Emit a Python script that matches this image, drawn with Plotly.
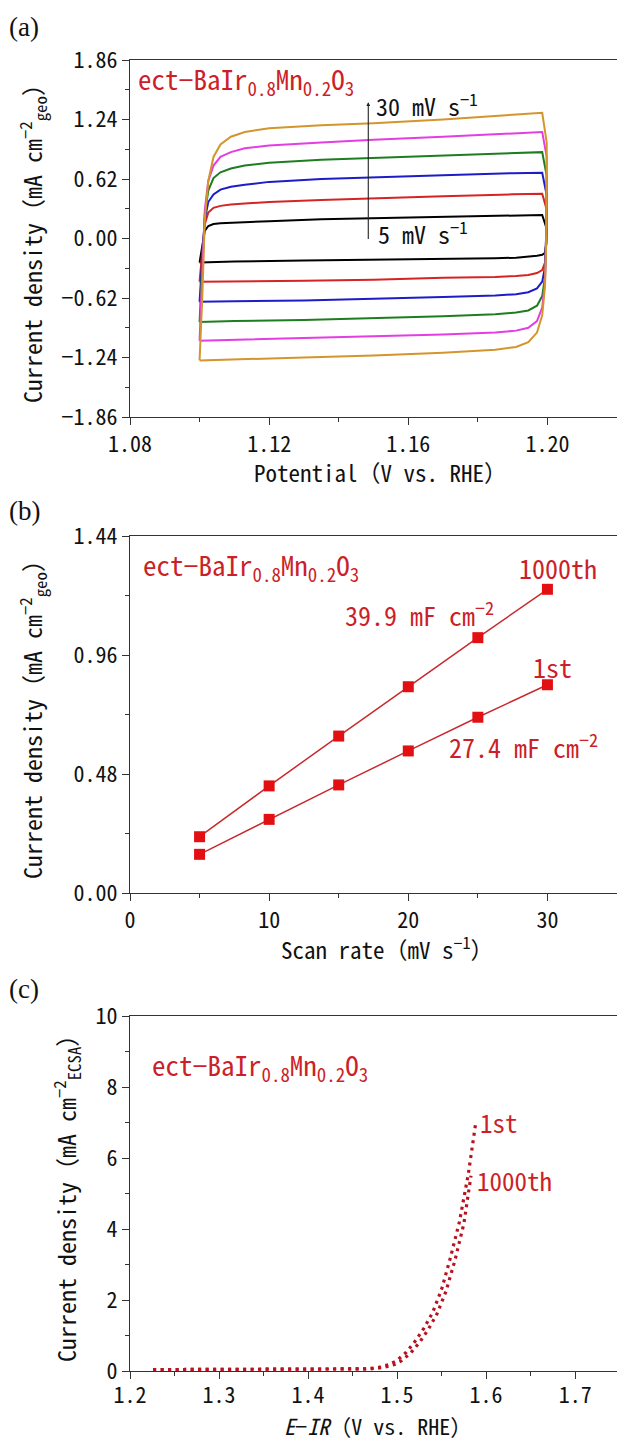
import plotly.graph_objects as go

W, H = 617, 1441
FONT = "Noto Sans Mono CJK JP, Noto Sans CJK JP, sans-serif"
RED_TXT = "#cc1f28"

# ---------------- (a) cyclic voltammograms at different scan rates ----------------
scan_rates = [5, 10, 15, 20, 25, 30]
cv_colors = ["#000000", "#d42424", "#1c1cc8", "#1e7d1e", "#e23ee2", "#d4952c"]

# potential grid of the anodic (forward) and cathodic (reverse) branches, V vs. RHE
E_forward = [1.1000, 1.1008, 1.1015, 1.1025, 1.1040, 1.1060, 1.1090, 1.1130,
             1.1200, 1.1350, 1.1500, 1.1700, 1.1900, 1.1985]
E_reverse = [1.1998, 1.1997, 1.1993, 1.1985, 1.1970, 1.1945, 1.1910, 1.1850,
             1.1700, 1.1500, 1.1300, 1.1100, 1.1010, 1.1000]

# current density, mA cm^-2 (geo)
j5_fwd = [-0.25, -0.05, 0.08, 0.13, 0.15, 0.16, 0.165, 0.17, 0.18, 0.20, 0.21, 0.225, 0.24, 0.245]
j5_rev = [0.10, -0.05, -0.15, -0.17, -0.18, -0.19, -0.20, -0.205, -0.21, -0.22, -0.23, -0.24, -0.25, -0.25]
j10_fwd = [-0.45, -0.10, 0.15, 0.27, 0.32, 0.34, 0.355, 0.365, 0.38, 0.40, 0.42, 0.44, 0.46, 0.467]
j10_rev = [0.30, 0.00, -0.25, -0.33, -0.36, -0.38, -0.39, -0.40, -0.41, -0.43, -0.44, -0.445, -0.45, -0.45]
j15_fwd = [-0.66, -0.20, 0.20, 0.38, 0.46, 0.51, 0.54, 0.56, 0.59, 0.62, 0.64, 0.66, 0.68, 0.685]
j15_rev = [0.45, 0.10, -0.30, -0.45, -0.52, -0.56, -0.58, -0.595, -0.61, -0.63, -0.645, -0.655, -0.66, -0.66]
j20_fwd = [-0.87, -0.30, 0.25, 0.50, 0.63, 0.69, 0.73, 0.76, 0.79, 0.82, 0.84, 0.86, 0.89, 0.90]
j20_rev = [0.65, 0.10, -0.40, -0.60, -0.70, -0.75, -0.77, -0.79, -0.81, -0.83, -0.85, -0.86, -0.87, -0.87]
j25_fwd = [-1.065, -0.40, 0.30, 0.60, 0.76, 0.85, 0.90, 0.94, 0.97, 1.00, 1.03, 1.06, 1.09, 1.11]
j25_rev = [0.85, 0.10, -0.45, -0.72, -0.86, -0.93, -0.96, -0.98, -1.00, -1.02, -1.04, -1.055, -1.065, -1.065]
j30_fwd = [-1.27, -0.60, 0.20, 0.60, 0.85, 0.98, 1.06, 1.11, 1.15, 1.18, 1.20, 1.24, 1.29, 1.31]
j30_rev = [1.00, 0.00, -0.50, -0.80, -0.98, -1.08, -1.13, -1.16, -1.19, -1.22, -1.24, -1.26, -1.27, -1.27]

cv_fwd = [j5_fwd, j10_fwd, j15_fwd, j20_fwd, j25_fwd, j30_fwd]
cv_rev = [j5_rev, j10_rev, j15_rev, j20_rev, j25_rev, j30_rev]

a_yticks = [-1.86, -1.24, -0.62, 0.00, 0.62, 1.24, 1.86]

# ---------------- (b) double-layer charging current vs scan rate ----------------
rate_mV = [5, 10, 15, 20, 25, 30]
j_1000th = [0.227, 0.432, 0.633, 0.832, 1.030, 1.225]
j_1st = [0.156, 0.297, 0.436, 0.573, 0.709, 0.840]
b_yticks = [0.00, 0.48, 0.96, 1.44]

# ---------------- (c) ECSA-normalised LSV ----------------
E_lsv_1st = [1.226, 1.30, 1.40, 1.445, 1.465, 1.479, 1.492, 1.500, 1.510, 1.520,
             1.530, 1.540, 1.550, 1.560, 1.570, 1.580, 1.584, 1.588]
j_lsv_1st = [0.04, 0.04, 0.04, 0.04, 0.06, 0.10, 0.19, 0.30, 0.52, 0.83,
             1.20, 1.65, 2.30, 3.20, 4.20, 5.55, 6.23, 6.93]
E_lsv_1000th = [1.226, 1.30, 1.40, 1.450, 1.470, 1.485, 1.497, 1.505, 1.515, 1.525,
                1.535, 1.545, 1.555, 1.565, 1.575, 1.583]
j_lsv_1000th = [0.04, 0.04, 0.04, 0.04, 0.06, 0.10, 0.18, 0.29, 0.50, 0.80,
                1.17, 1.62, 2.25, 3.12, 4.15, 5.50]

fig = go.Figure()

for rate, col, jf, jr in zip(scan_rates, cv_colors, cv_fwd, cv_rev):
    fig.add_trace(go.Scatter(x=E_forward + E_reverse, y=jf + jr, mode="lines",
                             line=dict(color=col, width=2), name=f"{rate} mV/s",
                             xaxis="x", yaxis="y"))

for jv in (j_1000th, j_1st):
    fig.add_trace(go.Scatter(x=rate_mV, y=jv, mode="lines+markers",
                             line=dict(color="#c82a2e", width=1.5),
                             marker=dict(symbol="square", size=11, color="#e31013"),
                             xaxis="x2", yaxis="y2"))

for ev, jv in ((E_lsv_1000th, j_lsv_1000th), (E_lsv_1st, j_lsv_1st)):
    fig.add_trace(go.Scatter(x=ev, y=jv, mode="lines",
                             line=dict(color="#b8121e", width=3.2, dash="3px,4.5px"),
                             xaxis="x3", yaxis="y3"))


def px_y(y):
    return 1 - y / H


XDOM = [130 / W, 1.0]
axis_common = dict(showline=True, linecolor="#333333", linewidth=1.3, ticks="outside",
                   ticklen=7, tickwidth=1.3, tickcolor="#333333", showgrid=False,
                   zeroline=False, automargin=False,
                   tickfont=dict(family=FONT, size=22, color="#111111"))
minor_common = dict(ticks="outside", ticklen=4, tickwidth=1.2, tickcolor="#333333", showgrid=False)

fig.update_layout(
    template="none",
    width=W, height=H, margin=dict(l=0, r=0, t=0, b=0, pad=0, autoexpand=False),
    paper_bgcolor="white", plot_bgcolor="white", showlegend=False,
    font=dict(family=FONT, color="#111111"),
    # (a)
    xaxis=dict(domain=XDOM, anchor="y", range=[1.08, 1.22], mirror=True,
               tickmode="linear", tick0=1.08, dtick=0.04, tickformat=".2f",
               minor=dict(dtick=0.02, tick0=1.08, **minor_common), **axis_common),
    yaxis=dict(domain=[px_y(417), px_y(60)], anchor="x", range=[-1.86, 1.86],
               tickmode="array", tickvals=a_yticks,
               ticktext=[f"{v:.2f}".replace("-", "\u2212") for v in a_yticks],
               minor=dict(tickmode="linear", tick0=-1.86, dtick=0.31, **minor_common),
               **axis_common),
    # (b)
    xaxis2=dict(domain=XDOM, anchor="y2", range=[0, 35], mirror=True,
                tickmode="linear", tick0=0, dtick=10,
                minor=dict(dtick=5, tick0=0, **minor_common), **axis_common),
    yaxis2=dict(domain=[px_y(893), px_y(536)], anchor="x2", range=[0, 1.44],
                tickmode="array", tickvals=b_yticks, ticktext=[f"{v:.2f}" for v in b_yticks],
                minor=dict(tickmode="linear", tick0=0, dtick=0.24, **minor_common),
                **axis_common),
    # (c)
    xaxis3=dict(domain=XDOM, anchor="y3", range=[1.2, 1.747], mirror=True,
                tickmode="linear", tick0=1.2, dtick=0.1, tickformat=".1f",
                ticklabelstandoff=-3,
                minor=dict(dtick=0.05, tick0=1.2, **minor_common), **axis_common),
    yaxis3=dict(domain=[px_y(1371), px_y(1016)], anchor="x3", range=[0, 10],
                tickmode="linear", tick0=0, dtick=2,
                minor=dict(dtick=1, tick0=0, **minor_common), **axis_common),
)

formula = "ect\u2212BaIr<sub>0.8</sub>Mn<sub>0.2</sub>O<sub>3</sub>"
ann = []


def text(x, y, s, size=23, color="#111111", xanchor="center", angle=0, family=FONT):
    ann.append(dict(x=x / W, y=px_y(y), xref="paper", yref="paper", text=s, showarrow=False,
                    xanchor=xanchor, yanchor="middle", textangle=angle,
                    font=dict(family=family, size=size, color=color)))


# panel letters
for lbl, yy in (("(a)", 27), ("(b)", 511), ("(c)", 989)):
    text(7, yy, lbl, size=27, xanchor="left", family="Liberation Serif")

# (a)
text(136, 80, formula, size=27, color=RED_TXT, xanchor="left")
text(374, 105, "30 mV s<sup>\u22121</sup>", size=24, xanchor="left")
text(376, 233, "5 mV s<sup>\u22121</sup>", size=24, xanchor="left")
text(380, 472, "Potential\uff08V vs. RHE\uff09", size=23)
text(32, 238, "Current density\uff08mA cm<sup>\u22122</sup><sub>geo</sub>\uff09", size=24, angle=-90)
ann.append(dict(x=1.1485, y=1.42, ax=1.1485, ay=-0.02, xref="x", yref="y", axref="x", ayref="y",
                showarrow=True, arrowhead=2, arrowsize=0.7, arrowwidth=1.1, arrowcolor="#222222",
                text=""))

# (b)
text(141, 566, formula, size=27, color=RED_TXT, xanchor="left")
text(558, 568, "1000th", size=26, color=RED_TXT)
text(343, 613, "39.9 mF cm<sup>\u22122</sup>", size=26, color=RED_TXT, xanchor="left")
text(552, 667, "1st", size=26, color=RED_TXT)
text(447, 746, "27.4 mF cm<sup>\u22122</sup>", size=26, color=RED_TXT, xanchor="left")
text(387, 948, "Scan rate\uff08mV s<sup>\u22121</sup>\uff09", size=23)
text(32, 714, "Current density\uff08mA cm<sup>\u22122</sup><sub>geo</sub>\uff09", size=24, angle=-90)

# (c)
text(150, 1066, formula, size=27, color=RED_TXT, xanchor="left")
text(478, 1122, "1st", size=25, color=RED_TXT, xanchor="left")
text(475, 1180, "1000th", size=25, color=RED_TXT, xanchor="left")
text(378, 1425, "<i>E</i>\u2212<i>IR</i>\uff08V vs. RHE\uff09", size=22)
text(66, 1193, "Current density\uff08mA cm<sup>\u22122</sup><sub>ECSA</sub>\uff09", size=24, angle=-90)

fig.update_layout(annotations=ann)
fig.write_html("out.html")
